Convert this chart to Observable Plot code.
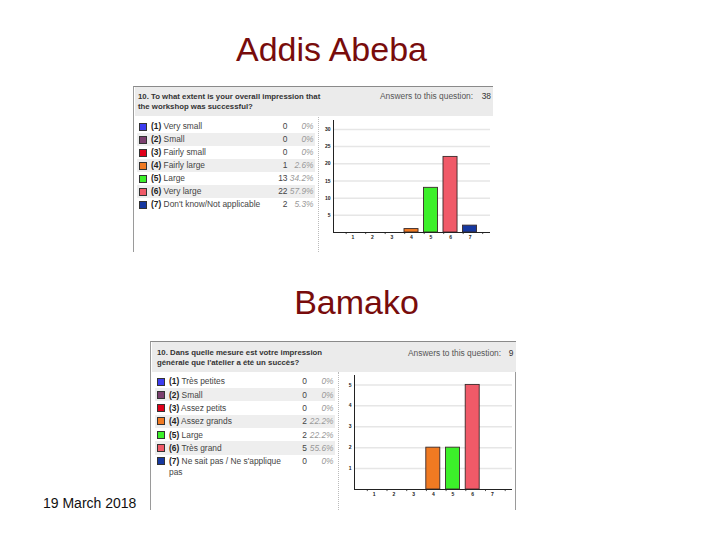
<!DOCTYPE html>
<html>
<head>
<meta charset="utf-8">
<script src="https://cdn.jsdelivr.net/npm/d3@7"></script>
<script src="https://cdn.jsdelivr.net/npm/@observablehq/plot@0.6"></script>
<style>
  body { margin: 0; background: #fff; }
  #slide { position: relative; width: 720px; height: 540px; overflow: hidden; background: #fff;
           font-family: "Liberation Sans", Arial, sans-serif; }
  #slide svg { overflow: visible; }
</style>
</head>
<body>
<div id="slide"></div>
<script>
// ---------------- data ----------------
const categories = [1, 2, 3, 4, 5, 6, 7];
const colors = ["#3c3cf0", "#7b3f6e", "#e0001a", "#f07a22", "#3cf02a", "#f05a68", "#1638a0"];

const addisTitle = "Addis Abeba";
const addisQuestion = ["10. To what extent is your overall impression that", "the workshop was successful?"];
const addisAnswers = 38;
const addisLabels = ["Very small", "Small", "Fairly small", "Fairly large", "Large", "Very large", "Don't know/Not applicable"];
const addisCounts = [0, 0, 0, 1, 13, 22, 2];
const addisPct = ["0%", "0%", "0%", "2.6%", "34.2%", "57.9%", "5.3%"];
const addisYTicks = [5, 10, 15, 20, 25, 30];

const bamakoTitle = "Bamako";
const bamakoQuestion = ["10. Dans quelle mesure est votre impression", "générale que l'atelier a été un succès?"];
const bamakoAnswers = 9;
const bamakoLabels = ["Très petites", "Small", "Assez petits", "Assez grands", "Large", "Très grand", "Ne sait pas / Ne s'applique pas"];
const bamakoCounts = [0, 0, 0, 2, 2, 5, 0];
const bamakoPct = ["0%", "0%", "0%", "22.2%", "22.2%", "55.6%", "0%"];
const bamakoYTicks = [1, 2, 3, 4, 5];

const footer = "19 March 2018";

// ---------------- helpers ----------------
const slide = document.getElementById("slide");
function el(css, html) {
  const e = document.createElement("div");
  Object.assign(e.style, {position: "absolute"}, css);
  if (html != null) e.innerHTML = html;
  slide.appendChild(e);
  return e;
}
function text(x, base, str, fs, o = {}) {
  const css = {
    left: x + "px", top: (base - 0.8465 * fs) + "px", fontSize: fs + "px", lineHeight: fs + "px",
    whiteSpace: "nowrap", color: o.color || "#333", fontWeight: o.bold ? "bold" : "normal",
    fontStyle: o.italic ? "italic" : "normal"
  };
  if (o.anchor === "end") css.transform = "translateX(-100%)";
  if (o.anchor === "middle") css.transform = "translateX(-50%)";
  return el(css, str);
}
function esc(s) { return s.replace(/&/g, "&amp;").replace(/</g, "&lt;"); }

function barChart(p) {
  const data = categories.map((c, i) => ({cat: c, n: p.counts[i], color: colors[i]}));
  const tickPos = categories.concat([8]).map(c => c - 0.35);
  const svg = Plot.plot({
    width: p.width, height: p.height,
    marginLeft: p.marginLeft, marginRight: 5, marginTop: p.marginTop, marginBottom: p.marginBottom,
    style: {background: "transparent", fontFamily: "Liberation Sans, Arial, sans-serif", overflow: "visible"},
    x: {type: "linear", domain: [0, p.xMax], axis: null},
    y: {type: "linear", domain: [0, p.yMax], axis: null},
    color: {type: "identity"},
    marks: [
      Plot.ruleY(p.yTicks, {stroke: "#e6e6e6", strokeWidth: 1.5}),
      Plot.rectY(data.filter(d => d.n > 0), {
        x1: d => d.cat - p.half, x2: d => d.cat + p.half, y1: 0, y2: "n",
        fill: "color", stroke: "#3a2a2a", strokeWidth: 0.9
      }),
      Plot.ruleY([0], {stroke: "#222", strokeWidth: 1}),
      Plot.ruleX([0], {stroke: "#222", strokeWidth: 1}),
      Plot.ruleX(tickPos, {x: d => d, y1: 0, y2: -p.tickLen, stroke: "#222", strokeWidth: 0.8}),
      Plot.text(p.yTicks, {x: 0, y: d => d, text: d => String(d), textAnchor: "end", dx: -3, fontSize: 5, fill: "#222", fontWeight: "bold"}),
      Plot.text(categories, {x: d => d, y: 0, text: d => String(d), lineAnchor: "top", dy: 3, fontSize: 5, fill: "#222", fontWeight: "bold"})
    ]
  });
  Object.assign(svg.style, {position: "absolute", left: p.left + "px", top: p.top + "px"});
  slide.appendChild(svg);
}

function panel(p) {
  // border & header band
  el({left: p.x + "px", top: p.y + "px", width: p.w + "px", height: p.h + "px",
      borderLeft: "1.5px solid #9a9a9a", borderTop: "1px solid #8a8a8a", boxSizing: "border-box"});
  el({left: (p.x + 1.5) + "px", top: (p.y + 1) + "px", width: (p.w - 1.5) + "px", height: p.hh + "px", background: "#ebebeb"});
  if (p.rightBorder) el({left: p.rightBorder.x + "px", top: p.rightBorder.y1 + "px", height: (p.rightBorder.y2 - p.rightBorder.y1) + "px", borderLeft: "1.5px solid #9a9a9a"});
  // question
  p.question.forEach((q, i) => text(p.qx, p.qBase + i * 10, esc(q), 7.8, {bold: true, color: "#333"}));
  text(p.ax, p.qBase, "Answers to this question:", 8.4, {color: "#555"});
  text(p.anx, p.qBase, String(p.answers), 8.4, {color: "#333", anchor: "end"});
  // legend rows
  p.labels.forEach((lab, i) => {
    const cy = p.row0 + i * p.rowStep;
    if (i % 2 === 1) el({left: p.rowX1 + "px", top: (cy - p.rowStep / 2) + "px", width: (p.rowX2 - p.rowX1) + "px", height: p.rowStep + "px", background: "#eeeeee"});
    el({left: p.swX + "px", top: (cy - 4) + "px", width: "8px", height: "8px", background: colors[i], boxSizing: "border-box", border: "0.8px solid #333"});
    let first = lab, rest = null;
    if (p.maxChars && lab.length > p.maxChars) {
      const cut = lab.lastIndexOf(" ", p.maxChars);
      first = lab.slice(0, cut); rest = lab.slice(cut + 1);
    }
    text(p.labX, cy + 3, `<b style="color:#222">(${categories[i]})</b> ${esc(first)}`, 8.4, {color: "#444"});
    if (rest) text(p.labX, cy + 3 + 11, esc(rest), 8.4, {color: "#444"});
    text(p.cntX, cy + 3, String(p.counts[i]), 8.4, {color: "#444", anchor: "end"});
    text(p.pctX, cy + 3, p.pct[i], 8.4, {color: "#999", italic: true, anchor: "end"});
  });
  // dotted separator
  el({left: p.sepX + "px", top: p.sepY1 + "px", height: (p.sepY2 - p.sepY1) + "px", borderLeft: "1px dotted #bbb"});
  barChart(p.chart);
}

// ---------------- slide ----------------
text(331.5, 61, addisTitle, 34, {color: "#780c0c", anchor: "middle"});
text(356.5, 314, bamakoTitle, 34, {color: "#780c0c", anchor: "middle"});
text(43, 508, footer, 14, {color: "#111"});

panel({
  x: 133, y: 86, w: 360, h: 166, hh: 29,
  question: addisQuestion, qx: 138, qBase: 99.5, ax: 380, anx: 491, answers: addisAnswers,
  labels: addisLabels, counts: addisCounts, pct: addisPct,
  row0: 126.5, rowStep: 13, rowX1: 137, rowX2: 315, swX: 139, labX: 151, cntX: 287.5, pctX: 313.5,
  sepX: 318, sepY1: 117, sepY2: 252,
  chart: {counts: addisCounts, yTicks: addisYTicks, yMax: 32.6, xMax: 8.05, half: 0.36, tickLen: 0.6,
          left: 318, top: 115, width: 177, height: 137, marginLeft: 15, marginTop: 5, marginBottom: 20}
});

panel({
  x: 150, y: 341, w: 366, h: 169, hh: 30,
  rightBorder: {x: 515, y1: 372, y2: 510},
  question: bamakoQuestion, qx: 157, qBase: 356, ax: 408, anx: 513.5, answers: bamakoAnswers,
  labels: bamakoLabels, counts: bamakoCounts, pct: bamakoPct,
  row0: 381.5, rowStep: 13.3, rowX1: 155, rowX2: 335, swX: 157, labX: 169, cntX: 307, pctX: 333.5, maxChars: 27,
  sepX: 338, sepY1: 372, sepY2: 510,
  chart: {counts: bamakoCounts, yTicks: bamakoYTicks, yMax: 5.45, xMax: 8.02, half: 0.355, tickLen: 0.1,
          left: 338, top: 372, width: 179, height: 138, marginLeft: 16, marginTop: 3, marginBottom: 21}
});
</script>
</body>
</html>
